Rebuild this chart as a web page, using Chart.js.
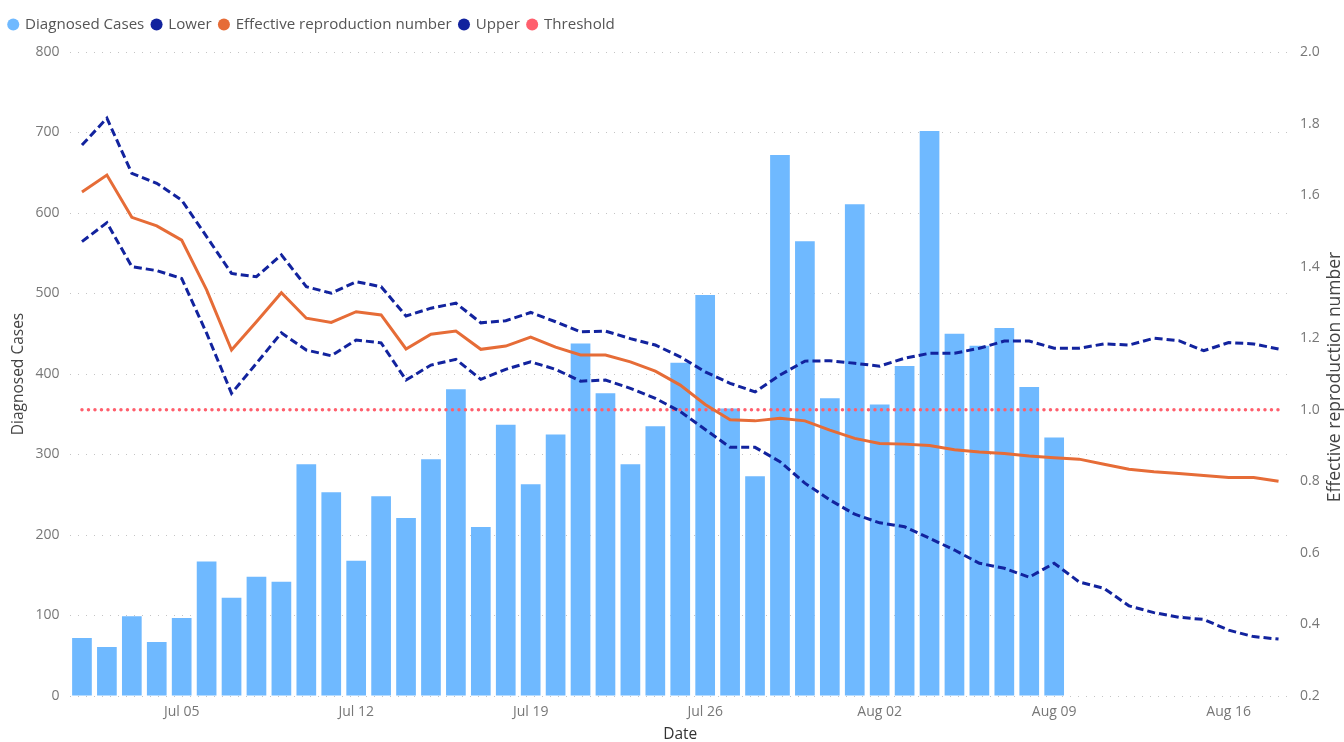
<!DOCTYPE html>
<html>
<head>
<meta charset="utf-8">
<script src="https://cdn.jsdelivr.net/npm/chart.js@4/dist/chart.umd.min.js"></script>
<style>
  html, body { margin: 0; padding: 0; background: #fff; }
  #wrap { width: 1344px; height: 742px; }
</style>
</head>
<body>
<div id="wrap"><canvas id="chart"></canvas></div>
<script>
// one label per day, Jul 01 .. Aug 18
const dates = [
  'Jul 01', 'Jul 02', 'Jul 03', 'Jul 04', 'Jul 05', 'Jul 06', 'Jul 07', 'Jul 08', 'Jul 09', 'Jul 10',
  'Jul 11', 'Jul 12', 'Jul 13', 'Jul 14', 'Jul 15', 'Jul 16', 'Jul 17', 'Jul 18', 'Jul 19', 'Jul 20',
  'Jul 21', 'Jul 22', 'Jul 23', 'Jul 24', 'Jul 25', 'Jul 26', 'Jul 27', 'Jul 28', 'Jul 29', 'Jul 30',
  'Jul 31', 'Aug 01', 'Aug 02', 'Aug 03', 'Aug 04', 'Aug 05', 'Aug 06', 'Aug 07', 'Aug 08', 'Aug 09',
  'Aug 10', 'Aug 11', 'Aug 12', 'Aug 13', 'Aug 14', 'Aug 15', 'Aug 16', 'Aug 17', 'Aug 18'
];
const shownTicks = ['Jul 05', 'Jul 12', 'Jul 19', 'Jul 26', 'Aug 02', 'Aug 09', 'Aug 16'];

// bars stop at Aug 09
const diagnosedCases = [
  72, 61, 99, 67, 97, 167, 122, 148, 142, 288,
  253, 168, 248, 221, 294, 381, 210, 337, 263, 325,
  438, 376, 288, 335, 414, 498, 357, 273, 672, 565,
  370, 611, 362, 410, 702, 450, 435, 457, 384, 321
];

const lower = [
  1.470, 1.523, 1.400, 1.389, 1.367, 1.214, 1.046, 1.130, 1.215, 1.167,
  1.151, 1.195, 1.187, 1.083, 1.125, 1.141, 1.085, 1.113, 1.134, 1.113,
  1.080, 1.083, 1.060, 1.032, 0.995, 0.945, 0.895, 0.895, 0.855, 0.795,
  0.748, 0.708, 0.684, 0.673, 0.641, 0.608, 0.571, 0.557, 0.532, 0.571,
  0.519, 0.501, 0.452, 0.433, 0.420, 0.414, 0.384, 0.366, 0.359
];

const rt = [
  1.609, 1.656, 1.538, 1.514, 1.474, 1.335, 1.167, 1.246, 1.327, 1.256,
  1.244, 1.274, 1.265, 1.170, 1.211, 1.220, 1.169, 1.178, 1.203, 1.175,
  1.153, 1.153, 1.134, 1.108, 1.069, 1.015, 0.972, 0.969, 0.976, 0.969,
  0.943, 0.920, 0.906, 0.904, 0.900, 0.888, 0.882, 0.878, 0.871, 0.866,
  0.862, 0.848, 0.834, 0.827, 0.822, 0.816, 0.811, 0.811, 0.800
];

const upper = [
  1.740, 1.815, 1.661, 1.633, 1.586, 1.484, 1.381, 1.372, 1.433, 1.344,
  1.326, 1.358, 1.344, 1.262, 1.284, 1.298, 1.243, 1.249, 1.272, 1.246,
  1.218, 1.220, 1.199, 1.181, 1.148, 1.106, 1.074, 1.050, 1.097, 1.136,
  1.137, 1.130, 1.122, 1.144, 1.158, 1.158, 1.172, 1.192, 1.192, 1.172,
  1.172, 1.184, 1.181, 1.200, 1.193, 1.165, 1.188, 1.184, 1.170
];

const threshold = [
  1, 1, 1, 1, 1, 1, 1, 1, 1, 1,
  1, 1, 1, 1, 1, 1, 1, 1, 1, 1,
  1, 1, 1, 1, 1, 1, 1, 1, 1, 1,
  1, 1, 1, 1, 1, 1, 1, 1, 1, 1,
  1, 1, 1, 1, 1, 1, 1, 1, 1
];

const FONT = "'Segoe UI', 'Open Sans', sans-serif";
const rightTitleText = 'Effective reproduction number';

// make room under the legend so the plot starts lower
const legendSpace = {
  id: 'legendSpace',
  beforeLayout(chart) {
    const lg = chart.legend;
    if (lg && !lg._patched) {
      const fit = lg.fit;
      lg.fit = function () { fit.call(this); this.height = 43; };
      lg._patched = true;
    }
  }
};

// right axis title reads bottom-to-top like the left one
const rightTitle = {
  id: 'rightTitle',
  afterDraw(chart) {
    const ctx = chart.ctx;
    const s = chart.scales.y1;
    ctx.save();
    ctx.translate(s.right - 9, (chart.chartArea.top + chart.chartArea.bottom) / 2 + 3);
    ctx.rotate(-Math.PI / 2);
    ctx.font = '17.5px ' + FONT;
    ctx.fillStyle = '#444';
    ctx.textAlign = 'center';
    ctx.textBaseline = 'middle';
    ctx.fillText(rightTitleText, 0, 0);
    ctx.restore();
  }
};

const lineBase = {
  type: 'line',
  yAxisID: 'y1',
  borderWidth: 3,
  pointRadius: 0,
  pointHoverRadius: 0,
  tension: 0,
  fill: false,
  order: 0,
  pointStyle: 'circle'
};

const ctx = document.getElementById('chart').getContext('2d');
new Chart(ctx, {
  type: 'bar',
  data: {
    labels: dates,
    datasets: [
      {
        label: 'Diagnosed Cases',
        data: diagnosedCases,
        backgroundColor: '#6FB9FF',
        borderWidth: 0,
        categoryPercentage: 1,
        barPercentage: 0.79,
        yAxisID: 'y',
        order: 1,
        pointStyle: 'circle'
      },
      Object.assign({}, lineBase, {
        label: 'Lower',
        data: lower,
        borderColor: '#12239E',
        backgroundColor: '#12239E',
        borderDash: [8, 4]
      }),
      Object.assign({}, lineBase, {
        label: 'Effective reproduction number',
        data: rt,
        borderColor: '#E66C37',
        backgroundColor: '#E66C37'
      }),
      Object.assign({}, lineBase, {
        label: 'Upper',
        data: upper,
        borderColor: '#12239E',
        backgroundColor: '#12239E',
        borderDash: [8, 4]
      }),
      Object.assign({}, lineBase, {
        label: 'Threshold',
        data: threshold,
        borderColor: '#FF5F6D',
        backgroundColor: '#FF5F6D',
        borderWidth: 3.5,
        borderDash: [0, 6.5],
        borderCapStyle: 'round'
      })
    ]
  },
  options: {
    responsive: true,
    maintainAspectRatio: false,
    animation: false,
    layout: { padding: { left: 1, right: 0, top: 9, bottom: 0 } },
    plugins: {
      tooltip: { enabled: false },
      legend: {
        position: 'top',
        align: 'start',
        labels: {
          usePointStyle: true,
          boxWidth: 8.5,
          boxHeight: 8.5,
          padding: 8,
          color: '#555',
          font: { family: FONT, size: 15.1 },
          generateLabels(chart) {
            const items = Chart.defaults.plugins.legend.labels.generateLabels(chart);
            items.forEach(it => {
              it.lineWidth = 0;
              it.lineDash = [];
              it.strokeStyle = it.fillStyle;
              it.pointStyle = 'circle';
            });
            return items.sort((a, b) => a.datasetIndex - b.datasetIndex);
          }
        }
      }
    },
    scales: {
      x: {
        offset: true,
        grid: { display: false, drawTicks: false },
        border: { display: false },
        ticks: {
          autoSkip: false,
          maxRotation: 0,
          padding: 8,
          color: '#777',
          font: { family: FONT, size: 14 },
          callback(value) {
            const lab = this.getLabelForValue(value);
            return shownTicks.includes(lab) ? lab : '';
          }
        },
        title: {
          display: true,
          text: 'Date',
          color: '#333',
          font: { family: FONT, size: 15.5, lineHeight: 1 },
          padding: { top: 0, bottom: 0 }
        },
        afterFit(s) { s.height = 46; }
      },
      y: {
        position: 'left',
        min: 0,
        max: 800,
        ticks: {
          stepSize: 100,
          padding: 10,
          color: '#777',
          font: { family: FONT, size: 14 }
        },
        grid: { color: '#C4C4C4', lineWidth: 1, drawTicks: false },
        border: { display: false, dash: [1, 7] },
        title: {
          display: true,
          text: 'Diagnosed Cases',
          color: '#444',
          font: { family: FONT, size: 15.5, lineHeight: 1.2 },
          padding: { top: 8, bottom: 0 }
        },
        afterFit(s) { s.width = 68.5; }
      },
      y1: {
        position: 'right',
        min: 0.2,
        max: 2.0,
        ticks: {
          stepSize: 0.2,
          padding: 9,
          color: '#777',
          font: { family: FONT, size: 14 },
          callback: v => v.toFixed(1)
        },
        grid: { drawOnChartArea: false, drawTicks: false },
        border: { display: false },
        afterFit(s) { s.width = 53; }
      }
    }
  },
  plugins: [legendSpace, rightTitle]
});
</script>
</body>
</html>
